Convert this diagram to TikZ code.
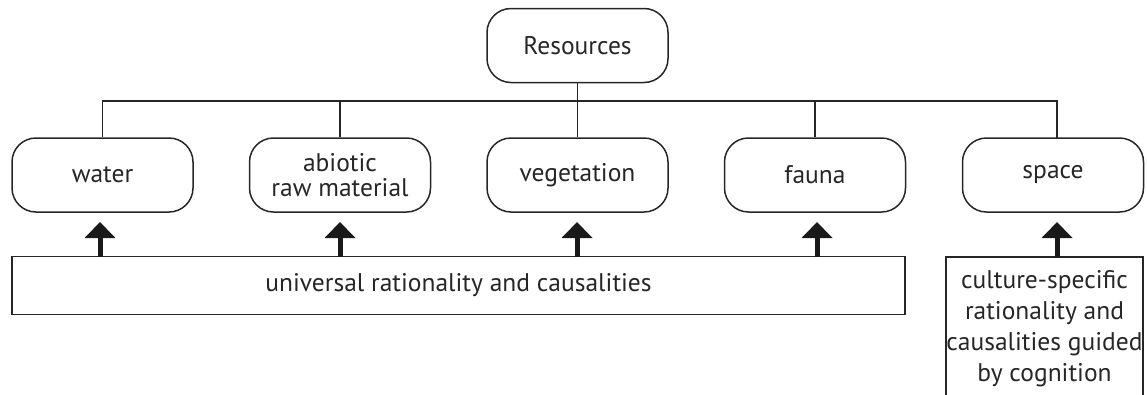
\documentclass[tikz,border=0pt]{standalone}
\usepackage{fontspec}
\setmainfont{PT Sans}
\usetikzlibrary{arrows.meta}
\begin{document}
\begin{tikzpicture}[x=1pt,y=-1pt,
  every node/.style={font=\fontsize{25.5}{31}\selectfont, text=black!85},
  res/.style={draw=black!85, line width=1.5pt, rounded corners=24pt, minimum width=181pt, minimum height=74pt, align=center},
  conn/.style={draw=black!85, line width=1.5pt},
  up/.style={draw=black!90, line width=5pt, -{Triangle[width=30pt,length=16pt]}},
  ]
\useasboundingbox (0,0) rectangle (1147,394);
\node[res] (R) at (577.5,45.5) {Resources};
\node[res] (w) at (102.5,175) {water};
\node[res] (a) at (340,175) {abiotic\\[-6pt]raw material};
\node[res] (v) at (577.5,175) {vegetation};
\node[res] (f) at (815,175) {fauna};
\node[res] (s) at (1053,175) {space};
\coordinate (bw) at (102.5,101);
\coordinate (ba) at (340,101);
\coordinate (bf) at (815,101);
\coordinate (bs) at (1057,101);
\coordinate (st) at (1057,138);
\draw[conn] (R.south) -- (v.north);
\draw[conn] (w.north) -- (bw) -- (bs) -- (st);
\draw[conn] (a.north) -- (ba);
\draw[conn] (f.north) -- (bf);
\node[draw=black!85, line width=1.5pt, minimum width=893pt, minimum height=58pt] (u) at (458.5,285.5) {universal rationality and causalities};
\node[align=center, inner sep=0pt, minimum width=197pt] (c) at (1044.5,329) {culture-specific\\rationality and\\causalities guided\\by cognition};
\coordinate (ctl) at (946,257);
\coordinate (ctr) at (1143,257);
\draw[conn] (946,395) -- (ctl) -- (ctr) -- (1143,395);
\coordinate (u1) at (100,257);
\coordinate (u2) at (340,257);
\coordinate (u3) at (577,257);
\coordinate (u4) at (817,257);
\coordinate (u5) at (1057,257);
\draw[up] (u1) -- (100,222);
\draw[up] (u2) -- (340,222);
\draw[up] (u3) -- (577,222);
\draw[up] (u4) -- (817,222);
\draw[up] (u5) -- (1057,222);
\end{tikzpicture}
\end{document}
